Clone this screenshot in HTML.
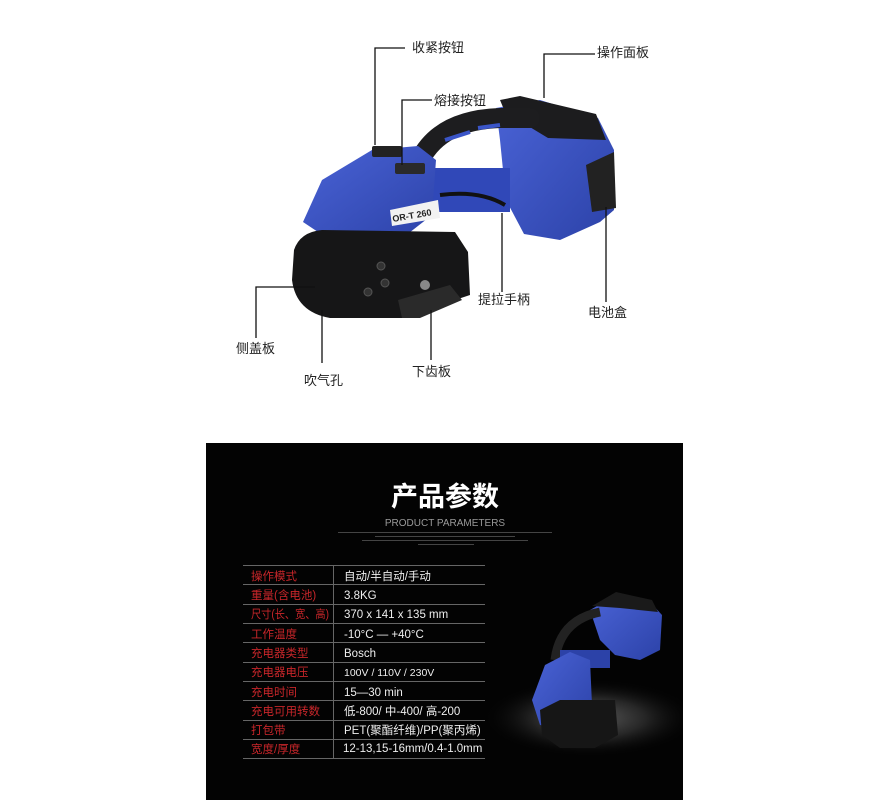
<!DOCTYPE html>
<html><head><meta charset="utf-8"><style>
body{margin:0;width:880px;height:800px;background:#fff;overflow:hidden;font-family:"Liberation Sans","Noto Sans CJK SC",sans-serif}
svg{position:absolute;left:0;top:0}
</style></head><body>
<svg width="880" height="800" viewBox="0 0 880 800" xmlns="http://www.w3.org/2000/svg">
<defs>
<radialGradient id="spot" cx="0.5" cy="0.5" r="0.5"><stop offset="0" stop-color="#5a5a5a"/><stop offset="0.5" stop-color="#262626"/><stop offset="1" stop-color="#000" stop-opacity="0"/></radialGradient>
<linearGradient id="blue" x1="0" y1="0" x2="1" y2="1"><stop offset="0" stop-color="#4a63d6"/><stop offset="1" stop-color="#2c42a8"/></linearGradient>
<clipPath id="pc"><rect x="206" y="443" width="477" height="357"/></clipPath>
</defs>
<g>
<polygon points="496,108 540,100 598,118 614,150 614,210 600,222 560,240 524,234 506,200 500,140" fill="url(#blue)"/>
<polygon points="500,100 520,96 596,114 606,140 548,138 505,112" fill="#1c1c1e"/>
<polygon points="586,165 614,152 616,208 592,212" fill="#222"/>
<rect x="424" y="168" width="86" height="44" fill="#3048b8"/>
<path d="M420,160 Q440,120 500,118 L530,118" stroke="#1d1d1f" stroke-width="20" fill="none" stroke-linecap="round"/>
<path d="M445,140 L470,132 M478,128 L500,125" stroke="#3a55c8" stroke-width="4"/>
<path d="M440,195 Q480,190 505,205" stroke="#111" stroke-width="4" fill="none"/>
<polygon points="303,222 322,180 372,150 418,146 436,160 432,215 400,240 330,240" fill="url(#blue)"/>
<rect x="372" y="146" width="30" height="11" rx="2" fill="#222"/>
<rect x="395" y="163" width="30" height="11" rx="2" fill="#2a2a2a"/>
<polygon points="390,210 438,200 440,218 392,226" fill="#f2f2f2"/>
<text x="393" y="222" font-size="9" font-weight="bold" fill="#222" transform="rotate(-10 393 222)">OR-T 260</text>
<path d="M294,250 Q300,232 322,230 L455,232 L468,252 L470,295 L440,305 L405,318 L330,318 Q296,312 292,280 Z" fill="#161617"/>
<polygon points="398,300 450,285 462,300 420,318 402,318" fill="#2a2a2a"/>
<circle cx="381" cy="266" r="4" fill="#333" stroke="#555"/><circle cx="368" cy="292" r="4" fill="#333" stroke="#555"/><circle cx="385" cy="283" r="4" fill="#333" stroke="#555"/><circle cx="425" cy="285" r="5" fill="#888"/>
</g>
<g stroke="#111" stroke-width="1.3" fill="none">
<path d="M375,145 V48 H405"/><path d="M402,165 V100 H432"/><path d="M544,98 V54 H595"/>
<path d="M502,213 V292"/><path d="M606,207 V302"/><path d="M315,287 H256 V338"/>
<path d="M322,310 V363"/><path d="M431,310 V360"/>
</g>
<g font-size="13" fill="#222">
<text x="412" y="52">收紧按钮</text><text x="434" y="105">熔接按钮</text><text x="597" y="57">操作面板</text>
<text x="478" y="304">提拉手柄</text><text x="588" y="317">电池盒</text><text x="236" y="353">侧盖板</text>
<text x="304" y="385">吹气孔</text><text x="412" y="376">下齿板</text>
</g>
<rect x="206" y="443" width="477" height="357" fill="#030303"/>
<ellipse cx="590" cy="718" rx="110" ry="40" fill="url(#spot)" clip-path="url(#pc)"/>
<text x="445" y="506" font-size="27" font-weight="bold" fill="#fff" text-anchor="middle">产品参数</text>
<text x="445" y="526" font-size="10" fill="#9a9a9a" text-anchor="middle">PRODUCT PARAMETERS</text>
<g fill="#444"><rect x="338" y="532" width="214" height="1"/><rect x="375" y="536" width="140" height="1"/><rect x="362" y="540" width="166" height="1"/><rect x="418" y="544" width="56" height="1"/></g>
<g stroke="#666" stroke-width="1">
<line x1="243" y1="565.5" x2="485" y2="565.5"/><line x1="243" y1="584.5" x2="485" y2="584.5"/><line x1="243" y1="604.5" x2="485" y2="604.5"/><line x1="243" y1="623.5" x2="485" y2="623.5"/><line x1="243" y1="642.5" x2="485" y2="642.5"/><line x1="243" y1="662.5" x2="485" y2="662.5"/><line x1="243" y1="681.5" x2="485" y2="681.5"/><line x1="243" y1="700.5" x2="485" y2="700.5"/><line x1="243" y1="720.5" x2="485" y2="720.5"/><line x1="243" y1="739.5" x2="485" y2="739.5"/><line x1="243" y1="758.5" x2="485" y2="758.5"/>
<line x1="333.5" y1="565" x2="333.5" y2="758"/>
</g>
<g font-size="11.5" fill="#c8262a">
<text x="251" y="580">操作模式</text><text x="251" y="599">重量(含电池)</text><text x="251" y="618" textLength="78" lengthAdjust="spacingAndGlyphs">尺寸(长、宽、高)</text><text x="251" y="638">工作温度</text><text x="251" y="657">充电器类型</text><text x="251" y="676">充电器电压</text><text x="251" y="696">充电时间</text><text x="251" y="715">充电可用转数</text><text x="251" y="734">打包带</text><text x="251" y="753">宽度/厚度</text>
</g>
<g font-size="11.5" fill="#eee">
<text x="344" y="580">自动/半自动/手动</text><text x="344" y="599">3.8KG</text><text x="344" y="618">370 x 141 x 135 mm</text><text x="344" y="638">-10°C — +40°C</text><text x="344" y="657">Bosch</text><text x="344" y="676" font-size="10.5">100V / 110V / 230V</text><text x="344" y="696">15—30 min</text><text x="344" y="715">低-800/ 中-400/ 高-200</text><text x="344" y="734">PET(聚酯纤维)/PP(聚丙烯)</text><text x="343" y="752">12-13,15-16mm/0.4-1.0mm</text>
</g>
<g>
<polygon points="590,610 615,596 650,602 662,615 660,650 640,660 615,655 600,640" fill="url(#blue)"/>
<polygon points="592,606 616,592 652,600 658,612 620,608" fill="#1a1a1a"/>
<path d="M555,660 Q560,620 600,612" stroke="#222" stroke-width="9" fill="none"/>
<rect x="560" y="650" width="50" height="18" fill="#2c42a8"/>
<polygon points="532,700 545,665 570,652 590,660 592,705 570,730 540,725" fill="url(#blue)"/>
<polygon points="540,710 560,700 615,700 618,735 595,748 560,748 542,735" fill="#161616"/>
</g>
</svg>
</body></html>
